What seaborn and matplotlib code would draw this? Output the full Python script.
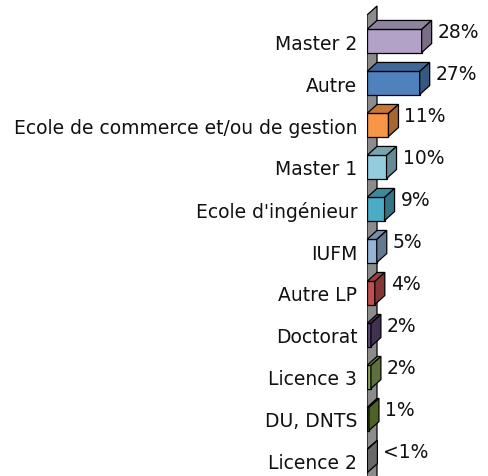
import numpy as np
import pandas as pd
import seaborn as sns
import matplotlib.pyplot as plt
from matplotlib.patches import Polygon
from matplotlib.colors import to_rgb

sns.set_theme(style="white")
plt.rcParams['font.family'] = ['DejaVu Sans']

# data
categories = ["Master 2", "Autre", "Ecole de commerce et/ou de gestion", "Master 1",
              "Ecole d'ingénieur", "IUFM", "Autre LP", "Doctorat", "Licence 3",
              "DU, DNTS", "Licence 2"]
values = [28, 27, 11, 10, 9, 5, 4, 2, 2, 1, 0.2]
value_labels = ["28%", "27%", "11%", "10%", "9%", "5%", "4%", "2%", "2%", "1%", "<1%"]
colors = ["#B3A2C7", "#4F81BD", "#F79646", "#93CDDD", "#4BACC6", "#95B3D7",
          "#C0504D", "#604A7B", "#8AA65A", "#71903A", "#999999"]

df = pd.DataFrame({"cat": categories, "val": values})

W, H = 488, 477
fig = plt.figure(figsize=(W / 100, H / 100), dpi=100)
ax_left = 367
ax = fig.add_axes([ax_left / W, 0, (W - ax_left) / W, 1])

bar_h = 0.55
sns.barplot(data=df, x="val", y="cat", hue="cat", palette=colors, orient="h",
            saturation=1, width=bar_h, edgecolor="black", linewidth=0.9,
            legend=False, ax=ax)

xmax = 62
row_px = 42
ax.set_xlim(0, xmax)
ax.set_ylim(10 + (H - 462) / row_px, -1)

# depth of the 3D effect, in pixels converted to data units
px_x = xmax / (W - ax_left)
px_y = 1 / row_px
ddx, ddy = 10 * px_x, -9 * px_y


def shade(c, f):
    r, g, b = to_rgb(c)
    return (r * f, g * f, b * f)


# back wall
wall_top = -1 + 16 * px_y
wall_bot = ax.get_ylim()[0] + 1
ax.add_patch(Polygon([(0, wall_top), (ddx, wall_top + ddy), (ddx, wall_bot), (0, wall_bot)],
                     closed=True, facecolor="#8C8C8C", edgecolor="black", lw=0.9, zorder=0.5))

for i, (v, c, lab) in enumerate(zip(values, colors, value_labels)):
    y0, y1 = i - bar_h / 2, i + bar_h / 2
    top = [(0, y0), (v, y0), (v + ddx, y0 + ddy), (ddx, y0 + ddy)]
    side = [(v, y0), (v + ddx, y0 + ddy), (v + ddx, y1 + ddy), (v, y1)]
    ax.add_patch(Polygon(top, closed=True, facecolor=shade(c, 0.8), edgecolor="black", lw=0.9, zorder=3))
    ax.add_patch(Polygon(side, closed=True, facecolor=shade(c, 0.68), edgecolor="black", lw=0.9, zorder=3))
    ax.text(v + ddx + 6 * px_x, i + ddy, lab, ha="left", va="center",
            fontsize=13.5, color="#111111", zorder=4)

for p in ax.patches[:len(values)]:
    p.set_zorder(2.5)

ax.set_xlabel("")
ax.set_ylabel("")
ax.set_xticks([])
ax.tick_params(axis="y", length=0, pad=7, labelsize=13.5, labelcolor="#111111")
sns.despine(ax=ax, left=True, bottom=True)

fig.savefig("out.png", dpi=100)
